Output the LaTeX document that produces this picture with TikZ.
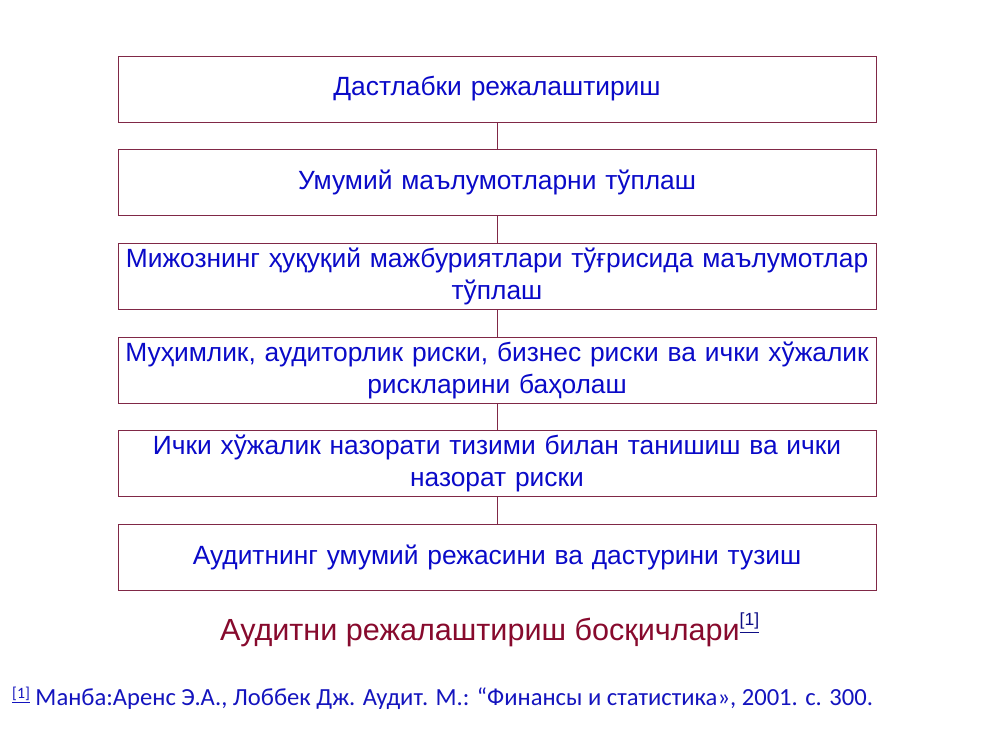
\documentclass[tikz,border=0pt]{standalone}
\usepackage{fontspec}
\setmainfont{Liberation Sans}
\newfontfamily\footfont{Carlito}
\usetikzlibrary{positioning}

\begin{document}
\begin{tikzpicture}[
        stepbox/.style={draw=boxborder, thin, minimum width=15.16cm, minimum height=1.32cm,
            text width=15cm, align=center, inner xsep=0.08cm, inner ysep=2pt, text=boxtext,
            font=\fontsize{15}{18.2}\selectfont},
        node distance=0.54cm
    ]
        % Farben
        \definecolor{boxborder}{RGB}{128, 40, 70}
        \definecolor{boxtext}{RGB}{10, 10, 200}
        \definecolor{titlecolor}{RGB}{135, 10, 45}
        \definecolor{notecolor}{RGB}{20, 20, 190}

        % Rahmen des Bildes
        \useasboundingbox (0, 0) rectangle (20, -15);

        % Schritte
        \node[stepbox] (plan) at (9.94, -1.78) {Дастлабки режалаштириш};
        \node[stepbox, below=of plan] (info) {Умумий маълумотларни тўплаш};
        \node[stepbox, below=of info] (legal) {Мижознинг ҳуқуқий мажбуриятлари тўғрисида маълумотлар\\тўплаш};
        \node[stepbox, below=of legal] (risk) {Муҳимлик, аудиторлик риски, бизнес риски ва ички хўжалик\\рискларини баҳолаш};
        \node[stepbox, below=of risk] (control) {Ички хўжалик назорати тизими билан танишиш ва ички\\назорат риски};
        \node[stepbox, below=of control] (program) {Аудитнинг умумий режасини ва дастурини тузиш};

        % Verbindungslinien
        \draw[boxborder, thin] (plan) -- (info);
        \draw[boxborder, thin] (info) -- (legal);
        \draw[boxborder, thin] (legal) -- (risk);
        \draw[boxborder, thin] (risk) -- (control);
        \draw[boxborder, thin] (control) -- (program);

        % Überschrift
        \node[anchor=west, text=titlecolor, font=\fontsize{17.4}{20}\selectfont] (title) at (4.28, -12.6)
            {Аудитни режалаштириш босқичлари\raisebox{0.9ex}{\fontsize{10}{12}\selectfont\textcolor{notecolor!70!black}{\underline{[1]}}}};

        % Quelle
        \node[anchor=west, text=notecolor, font=\footfont\fontsize{14}{16}\selectfont] (source) at (0.12, -13.96)
            {\raisebox{0.6ex}{\fontsize{9}{11}\selectfont\underline{[1]}} Манба:Аренс Э.А., Лоббек Дж. Аудит. М.: “Финансы и статистика», 2001. с. 300.};
    \end{tikzpicture}
\end{document}
